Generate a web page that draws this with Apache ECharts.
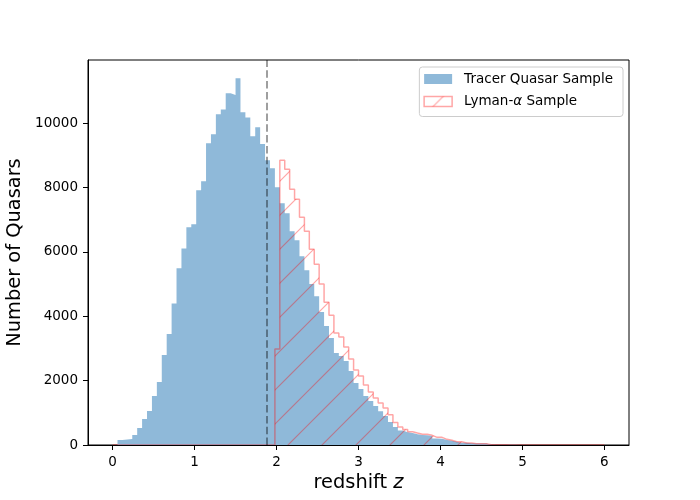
<!DOCTYPE html>
<html>
<head>
<meta charset="utf-8">
<script src="https://cdn.jsdelivr.net/npm/echarts@6/dist/echarts.min.js"></script>
<style>
html,body{margin:0;padding:0;background:#fff;}
#chart{width:700px;height:500px;}
</style>
</head>
<body>
<div id="chart"></div>
<script>
// Histogram bins: 100 bins from 0 to 6 (width 0.06)
const binStart = 0;
const binWidth = 0.06;

// Tracer quasar sample counts per bin
const tracerCounts = [
  0, 155, 170, 190, 310, 530, 810, 1055, 1520, 1955,
  2795, 3450, 4400, 5495, 6105, 6770, 6860, 7920, 8200, 9375,
  9655, 10280, 10430, 10930, 10880, 11395, 10340, 10175, 9595, 9875,
  9355, 8850, 8600, 8010, 7514, 7204, 6645, 6365, 5868, 5434,
  5000, 4626, 4130, 3695, 3322, 2857, 2763, 2608, 2298, 1925,
  1739, 1521, 1366, 1211, 1050, 900, 714, 559, 450, 400,
  370, 331, 310, 300, 280, 200, 195, 155, 135, 103,
  72, 70, 52, 50, 48, 45, 12, 10, 8, 6,
  5, 4, 3, 2, 2, 1, 1, 1, 0, 0,
  0, 0, 0, 0, 0, 0, 0, 0, 0, 0
];

// Lyman-alpha sample counts per bin
const lymanCounts = [
  0, 0, 0, 0, 0, 0, 0, 0, 0, 0,
  0, 0, 0, 0, 0, 0, 0, 0, 0, 0,
  0, 0, 0, 0, 0, 0, 0, 0, 0, 0,
  0, 0, 0, 2981, 8850, 8570, 7949, 7638, 7079, 6645,
  6086, 5620, 5000, 4440, 4036, 3478, 3353, 3043, 2670, 2329,
  2142, 1863, 1646, 1459, 1304, 1149, 940, 700, 560, 480,
  414, 370, 331, 331, 300, 238, 238, 176, 145, 103,
  103, 62, 62, 41, 41, 41, 8, 6, 5, 4,
  3, 2, 2, 1, 1, 1, 0, 0, 0, 0,
  0, 0, 0, 0, 0, 0, 0, 0, 0, 0
];

const cutoffZ = 1.875;
const xTicks = [0, 1, 2, 3, 4, 5, 6];
const yTicks = [0, 2000, 4000, 6000, 8000, 10000];
const seriesNames = ['Tracer Quasar Sample', 'Lyman-α Sample'];

function stepData(counts) {
  const pts = [];
  for (let k = 0; k < counts.length; k++) {
    pts.push([+(binStart + k * binWidth).toFixed(4), counts[k]]);
  }
  const end = +(binStart + counts.length * binWidth).toFixed(4);
  pts.push([end, counts[counts.length - 1]]);
  pts.push([end, 0]);
  return pts;
}

// hatch pattern "/"
const tile = 34;
const hc = document.createElement('canvas');
hc.width = tile; hc.height = tile;
const g = hc.getContext('2d');
g.strokeStyle = 'rgba(255,0,0,0.35)';
g.lineWidth = 1.2;
g.beginPath();
const off = 19;
g.moveTo(-2, off + 2); g.lineTo(off + 2, -2);
g.moveTo(off - 2, tile + 2); g.lineTo(tile + 2, off - 2);
g.stroke();
const hatch = { image: hc, repeat: 'repeat' };

const chart = echarts.init(document.getElementById('chart'), null, { renderer: 'canvas' });
const font = 'DejaVu Sans';
chart.setOption({
  animation: false,
  textStyle: { fontFamily: font },
  grid: { left: 88, right: 71, top: 60, bottom: 55, show: true, borderColor: '#000', borderWidth: 1,
    backgroundColor: 'transparent', containLabel: false, outerBoundsMode: 'none' },
  legend: {
    orient: 'vertical',
    right: 77, top: 67,
    padding: [5, 10, 8, 4],
    itemWidth: 28, itemHeight: 10, itemGap: 8.5,
    backgroundColor: 'rgba(255,255,255,0.8)',
    borderColor: '#cccccc', borderWidth: 1, borderRadius: 3,
    textStyle: { fontFamily: font, fontSize: 13.5, color: '#000', lineHeight: 14, padding: [0, 0, 0, 7],
      rich: { i: { fontStyle: 'italic', fontFamily: font, fontSize: 13.5, color: '#000', lineHeight: 14 } } },
    formatter: function (n) { return n.replace('α', '{i|α}'); },
    data: [
      { name: seriesNames[0], icon: 'rect', itemStyle: { color: '#8fb9d9', borderWidth: 0 } },
      { name: seriesNames[1], icon: 'rect', itemStyle: { color: hatch, borderColor: 'rgba(255,0,0,0.35)', borderWidth: 1.5 } }
    ]
  },
  xAxis: {
    type: 'value', min: -0.3, max: 6.3, z: 5,
    splitLine: { show: false },
    axisLine: { show: true, onZero: false, lineStyle: { color: '#000', width: 1 } },
    axisTick: { show: true, length: 5, lineStyle: { color: '#000', width: 1 }, customValues: xTicks },
    axisLabel: { color: '#000', fontSize: 13.5, fontFamily: font, margin: 10, customValues: xTicks, formatter: v => String(v) },
    name: 'redshift {i|z}', nameLocation: 'middle', nameGap: 28,
    nameTextStyle: { fontSize: 19.4, color: '#000', fontFamily: font,
      rich: { i: { fontStyle: 'italic', fontSize: 19.4, color: '#000', fontFamily: font } } }
  },
  yAxis: {
    type: 'value', min: 0, max: 11965, z: 5,
    splitLine: { show: false },
    axisLine: { show: true, onZero: false, lineStyle: { color: '#000', width: 1 } },
    axisTick: { show: true, length: 5, lineStyle: { color: '#000', width: 1 }, customValues: yTicks },
    axisLabel: { color: '#000', fontSize: 13.5, fontFamily: font, margin: 10, customValues: yTicks, formatter: v => String(v) },
    name: 'Number of Quasars', nameLocation: 'middle', nameGap: 62,
    nameTextStyle: { fontSize: 19.4, color: '#000', fontFamily: font }
  },
  series: [
    {
      name: seriesNames[0], type: 'line', step: 'end', symbol: 'none',
      data: stepData(tracerCounts),
      lineStyle: { width: 0, opacity: 0 },
      itemStyle: { color: '#8fb9d9' },
      areaStyle: { color: '#8fb9d9', opacity: 1 }
    },
    {
      name: seriesNames[1], type: 'line', step: 'end', symbol: 'none',
      data: stepData(lymanCounts),
      lineStyle: { width: 1.5, color: 'rgba(255,0,0,0.35)' },
      itemStyle: { color: 'rgba(255,0,0,0.35)' },
      areaStyle: { color: hatch, opacity: 1 },
      markLine: {
        silent: true, symbol: ['none', 'none'],
        label: { show: false },
        lineStyle: { color: 'rgba(0,0,0,0.5)', type: [7.5, 3.3], width: 1.5 },
        data: [{ xAxis: cutoffZ }]
      }
    }
  ]
});
</script>
</body>
</html>
